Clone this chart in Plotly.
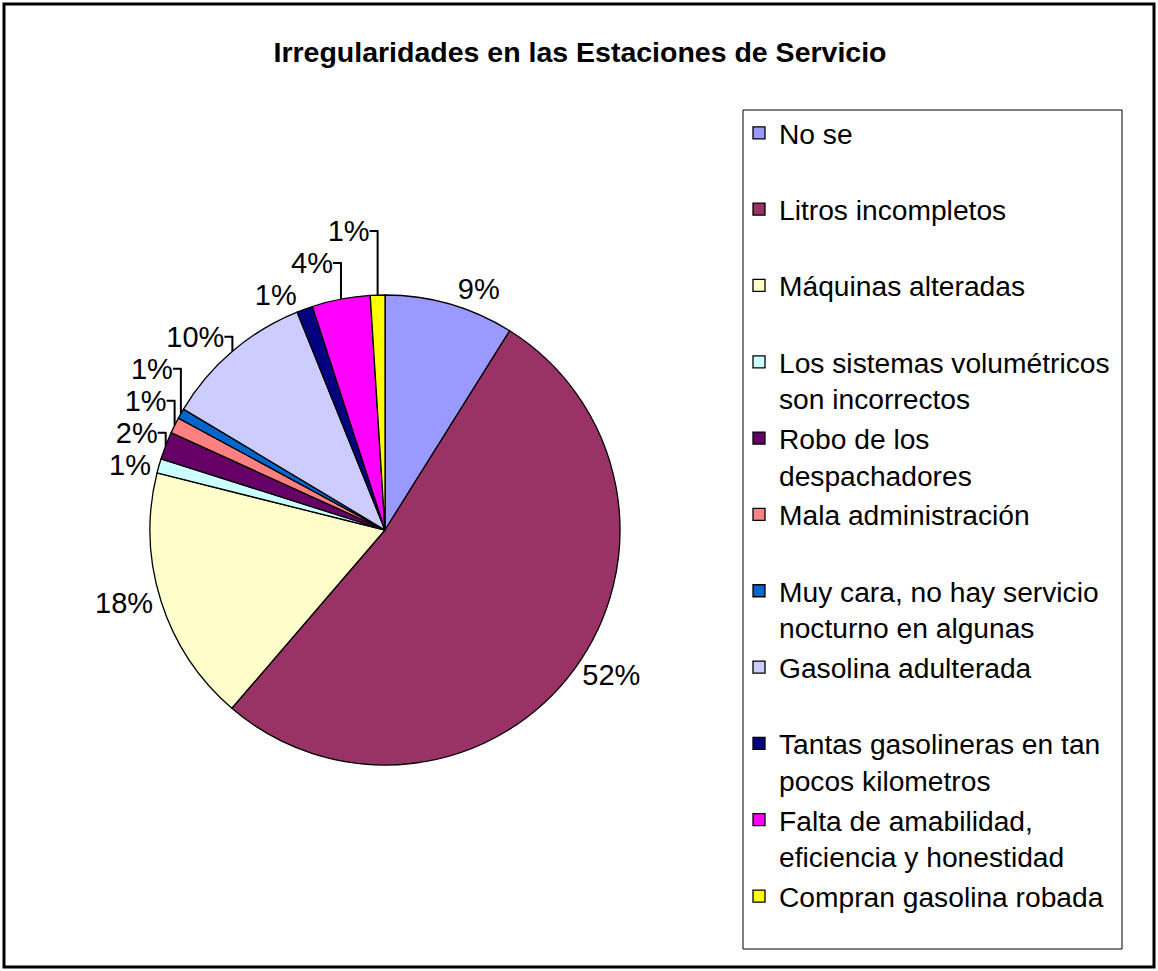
import plotly.graph_objects as go

categories = [
    "No se",
    "Litros incompletos",
    "Máquinas alteradas",
    "Los sistemas volumétricos<br>son incorrectos",
    "Robo de los<br>despachadores",
    "Mala administración",
    "Muy cara, no hay servicio<br>nocturno en algunas",
    "Gasolina adulterada",
    "Tantas gasolineras en tan<br>pocos kilometros",
    "Falta de amabilidad,<br>eficiencia y honestidad",
    "Compran gasolina robada",
]
values = [8.9, 52.4, 17.6, 1.0, 1.9, 1.1, 0.7, 10.3, 1.1, 4.0, 1.0]
colors = ["#9999FF", "#993366", "#FFFFCC", "#CCFFFF", "#660066", "#FF8080",
          "#0066CC", "#CCCCFF", "#000080", "#FF00FF", "#FFFF00"]
title = "Irregularidades en las Estaciones de Servicio"

W, H = 1158, 971
FONT = "Arial, Liberation Sans, sans-serif"

# pad single-line legend entries to two lines so every entry takes the same slot
legend_labels = [c if "<br>" in c else c + "<br>\u00a0" for c in categories]

fig = go.Figure(go.Pie(
    labels=legend_labels,
    values=values,
    sort=False,
    direction="clockwise",
    rotation=0,
    marker=dict(colors=colors, line=dict(color="black", width=1.3)),
    textposition="outside",
    texttemplate="%{percent:.0%}",
    textfont=dict(family=FONT, size=29, color="black"),
    domain=dict(x=[150 / W, 620 / W], y=[(H - 765) / H, (H - 295) / H]),
    automargin=False,
))

fig.update_layout(
    width=W, height=H,
    margin=dict(l=0, r=0, t=0, b=0),
    paper_bgcolor="white",
    title=dict(text="<b>" + title + "</b>", x=580 / W, xanchor="center",
               y=1 - 52 / H, yanchor="middle",
               font=dict(family=FONT, size=28.5, color="black")),
    legend=dict(
        x=739 / W, xanchor="left", y=1 - 108 / H, yanchor="top",
        font=dict(family=FONT, size=28.2, color="black"),
        valign="top", bgcolor="rgba(0,0,0,0)", borderwidth=0,
        traceorder="normal",
    ),
    shapes=[
        dict(type="rect", xref="paper", yref="paper",
             x0=4 / W, x1=1154 / W, y0=1 - 967 / H, y1=1 - 4 / H,
             line=dict(color="black", width=3)),
        dict(type="rect", xref="paper", yref="paper",
             x0=743 / W, x1=1122 / W, y0=1 - 949 / H, y1=1 - 110 / H,
             line=dict(color="black", width=1)),
    ],
)

fig.write_html("out.html", config={"displayModeBar": False},
               post_script="document.body.style.margin='0';")
